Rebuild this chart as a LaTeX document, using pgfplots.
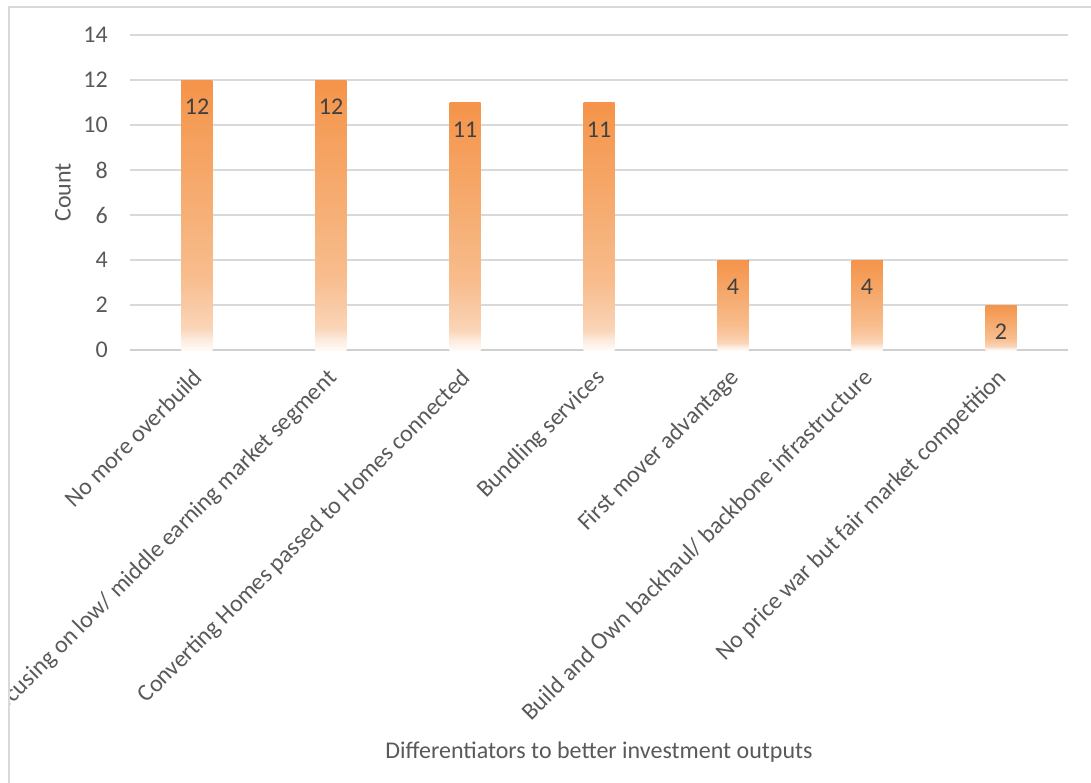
\documentclass[border=0pt]{standalone}
\usepackage{fontspec}
\setmainfont{Carlito}
\usepackage{pgfplots}
\pgfplotsset{compat=1.18}
\definecolor{txt}{HTML}{595959}
\definecolor{lab}{HTML}{404040}
\definecolor{gridc}{HTML}{D9D9D9}
\definecolor{axc}{HTML}{D0D0D0}
\definecolor{c0}{HTML}{FFFAF6}
\definecolor{c1}{HTML}{FDEBDD}
\definecolor{c2}{HTML}{FAD5B8}
\definecolor{c3}{HTML}{F9C9A3}
\definecolor{c4}{HTML}{F8BD8E}
\definecolor{c5}{HTML}{F6AD72}
\definecolor{c6}{HTML}{F5944A}
\pgfdeclareverticalshading{barshade}{100bp}{color(0bp)=(c0); color(25bp)=(c0); color(27bp)=(c1); color(29bp)=(c2); color(33.5bp)=(c3); color(38.5bp)=(c4); color(52.5bp)=(c5); color(75bp)=(c6); color(100bp)=(c6)}
\begin{document}
\fontsize{18}{22}\selectfont
\begin{tikzpicture}[x=1pt,y=1pt]
\begin{axis}[
  scale only axis,
  width=703.5pt, height=236.25pt,
  xmin=-0.5, xmax=6.5, ymin=0, ymax=14,
  ytick={0,2,...,14}, xtick={0,1,...,6},
  xticklabels={No more overbuild,Focusing on low/ middle earning market segment,Converting Homes passed to Homes connected,Bundling services,First mover advantage,Build and Own backhaul/ backbone infrastructure,No price war but fair market competition},
  axis line style={draw=none}, major tick length=0pt,
  ymajorgrids, grid style={color=gridc, line width=1.1pt},
  extra y ticks={0}, extra y tick labels={},
  extra y tick style={grid style={color=axc, line width=1.5pt}},
  /pgf/number format/assume math mode=true,
  ybar, bar width=23.25pt,
  yticklabel style={anchor=east, inner sep=0pt, xshift=-16.5pt, text=txt},
  xticklabel style={xshift=-3.75pt, yshift=-12.75pt, rotate=45, anchor=north east, inner sep=0pt, text=txt},
  xlabel={Differentiators to better investment outputs},
  xlabel style={at={(axis description cs:0.5,-1.2762)}, anchor=center, text=txt},
  ylabel={Count},
  ylabel style={at={(axis description cs:-0.0714,0.5)}, anchor=center, text=txt},
  nodes near coords,
  every node near coord/.append style={anchor=center, yshift=-20.25pt, text=lab},
  every axis plot/.append style={shading=barshade, draw=none, bar shift=0pt},
]
\addplot coordinates {(0,12)};
\addplot coordinates {(1,12)};
\addplot coordinates {(2,11)};
\addplot coordinates {(3,11)};
\addplot coordinates {(4,4)};
\addplot coordinates {(5,4)};
\addplot coordinates {(6,2)};
\coordinate (PB) at (rel axis cs:0,0);
\end{axis}
\pgfresetboundingbox
\begin{scope}[shift={(PB)}]
\path[use as bounding box] (-97.5,-324) rectangle (720.75,262.5);
\fill[white] (-130,-340) rectangle (-90.4,280);
\fill[white] (-130,257.6) rectangle (740,280);
\draw[gridc, line width=1.5pt] (-91.1,-330) -- (-91.1,257.6) -- (730,257.6);
\end{scope}
\end{tikzpicture}
\end{document}
